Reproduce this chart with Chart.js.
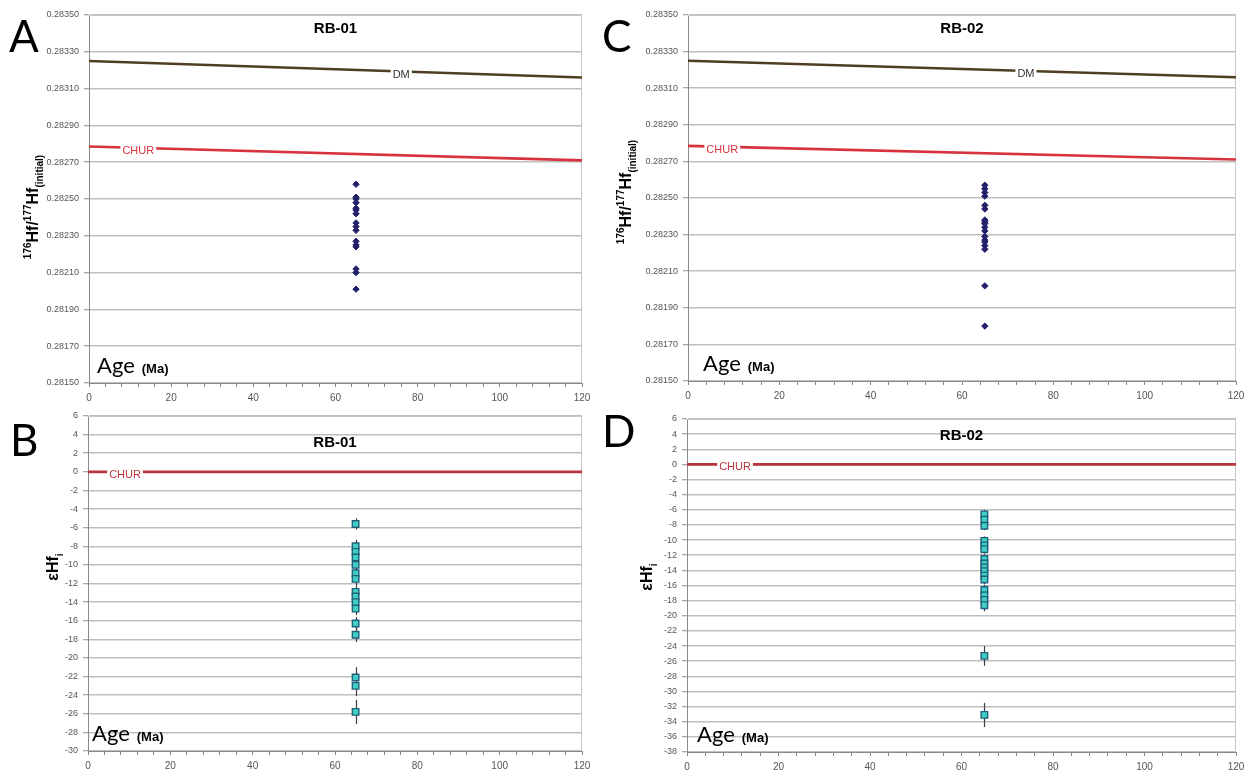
<!DOCTYPE html>
<html>
<head>
<meta charset="utf-8">
<script src="https://cdn.jsdelivr.net/npm/chart.js@4.4.1/dist/chart.umd.min.js"></script>
<style>
    html, body { margin: 0; padding: 0; background: #fff; }
    #wrap { position: relative; width: 1253px; height: 772px; overflow: hidden; }
    canvas { position: absolute; }
</style>
</head>
<body>
<div id="wrap">
    <canvas id="chartA" width="600" height="405" style="left:0;top:0"></canvas>
    <canvas id="chartB" width="600" height="367" style="left:0;top:405px"></canvas>
    <canvas id="chartC" width="655" height="405" style="left:598px;top:0"></canvas>
    <canvas id="chartD" width="655" height="367" style="left:598px;top:405px"></canvas>
</div>
<script>
// Hf isotope plots - RB-01 / RB-02 zircons (age 65 Ma)

// x: age in Ma
const SAMPLE_AGE = 65;
const refAges = [0, 120];

// reference evolution lines
const dmHf = [0.28325, 0.28316];
const churHf = [0.282785, 0.28271];
const churEps = [0, 0];

// RB-01
const hfRB01 = [0.28258, 0.28251, 0.28250, 0.28248, 0.28245, 0.28244, 0.28242, 0.28237,
                0.28235, 0.28233, 0.28227, 0.28225, 0.28224, 0.28212, 0.28210, 0.28201];
const epsRB01 = [-5.6, -8.0, -8.6, -9.2, -10.0, -10.9, -11.5, -12.9,
                 -13.4, -14.0, -14.7, -16.3, -17.5, -22.1, -23.0, -25.8];
const epsErrRB01 = [0.6, 0.7, 0.7, 0.7, 0.7, 0.7, 0.7, 0.7,
                    0.7, 0.7, 0.7, 0.7, 0.8, 1.1, 1.1, 1.3];

// RB-02
const hfRB02 = [0.28257, 0.28255, 0.28253, 0.28251, 0.28246, 0.28244, 0.28238, 0.28237, 0.28236,
                0.28234, 0.28232, 0.28229, 0.28227, 0.28226, 0.28224, 0.28222, 0.28202, 0.28180];
const epsRB02 = [-6.6, -7.3, -8.1, -10.1, -10.7, -11.2, -12.5, -13.1, -13.6,
                 -14.1, -14.7, -15.2, -16.6, -17.3, -17.9, -18.6, -25.3, -33.1];
const epsErrRB02 = [0.6, 0.6, 0.6, 0.6, 0.6, 0.6, 0.6, 0.6, 0.6,
                    0.6, 0.6, 0.6, 0.7, 0.7, 0.7, 0.8, 1.3, 1.6];

// axis ranges / ticks
const ageRange = { min: 0, max: 120, minorStep: 4, labelStep: 20 };
const hfRange = { min: 0.2815, max: 0.2835, step: 0.0002 };
const epsRangeB = { min: -30, max: 6, step: 2 };
const epsRangeD = { min: -38, max: 6, step: 2 };

const hfTitle = [
    { t: '176', size: 10, dy: -6 },
    { t: 'Hf/', size: 16 },
    { t: '177', size: 10, dy: -6 },
    { t: 'Hf', size: 16 },
    { t: '(initial)', size: 10, dy: 6 }
];
const epsTitle = [
    { t: 'εHf', size: 16 },
    { t: 'i', size: 10, dy: 6 }
];

const toPoints = (vals) => vals.map(v => ({ x: SAMPLE_AGE, y: v }));
const toLine = (vals) => vals.map((v, i) => ({ x: refAges[i], y: v }));

const decorPlugin = {
    id: 'decor',
    beforeDatasetsDraw(chart, args, o) {
        const { ctx, chartArea: a, scales: { x, y } } = chart;
        ctx.save();
        // top / right frame
        ctx.strokeStyle = '#c6c6c6';
        ctx.lineWidth = 1;
        ctx.beginPath();
        ctx.moveTo(a.left, a.top + 0.5);
        ctx.lineTo(a.right - 0.5, a.top + 0.5);
        ctx.lineTo(a.right - 0.5, a.bottom);
        ctx.stroke();
        // error bars under the squares
        if (o.errors) {
            const ds = chart.data.datasets[o.errors.dataset];
            ctx.strokeStyle = '#3c3c3c';
            ctx.lineWidth = 1.2;
            ds.data.forEach((p, i) => {
                const e = o.errors.values[i];
                const px = Math.round(x.getPixelForValue(p.x)) + 0.5;
                ctx.beginPath();
                ctx.moveTo(px, y.getPixelForValue(p.y + e));
                ctx.lineTo(px, y.getPixelForValue(p.y - e));
                ctx.stroke();
            });
        }
        ctx.restore();
    },
    afterDatasetsDraw(chart, args, o) {
        const { ctx, scales: { x, y } } = chart;
        ctx.save();
        (o.lineLabels || []).forEach(l => {
            const d = chart.data.datasets[l.dataset].data;
            const f = (l.age - d[0].x) / (d[1].x - d[0].x);
            const v = d[0].y + f * (d[1].y - d[0].y);
            const px = x.getPixelForValue(l.age);
            const py = y.getPixelForValue(v) + 3;
            ctx.font = '11px "Liberation Sans", Arial, sans-serif';
            const w = ctx.measureText(l.text).width;
            ctx.fillStyle = '#fff';
            ctx.fillRect(px - w / 2 - 2, py - 6, w + 4, 12);
            ctx.fillStyle = l.color;
            ctx.textAlign = 'center';
            ctx.textBaseline = 'middle';
            ctx.fillText(l.text, px, py);
        });
        ctx.restore();
    },
    afterDraw(chart, args, o) {
        const { ctx, chartArea: a } = chart;
        ctx.save();
        // panel letter
        ctx.fillStyle = '#000';
        ctx.font = '44px Lato, "Open Sans", sans-serif';
        ctx.textAlign = 'left';
        ctx.textBaseline = 'alphabetic';
        ctx.fillText(o.letter, o.letterX, o.letterY);

        // sample title
        ctx.font = 'bold 15px "Liberation Sans", Arial, sans-serif';
        ctx.textAlign = 'center';
        ctx.textBaseline = 'middle';
        ctx.fillText(o.title, (a.left + a.right) / 2, o.titleY);

        // rotated y title with super/subscripts
        ctx.translate(o.yTitleX, o.yTitleY);
        ctx.rotate(-Math.PI / 2);
        ctx.textAlign = 'left';
        ctx.textBaseline = 'middle';
        let total = 0;
        o.yTitle.forEach(s => {
            ctx.font = 'bold ' + s.size + 'px "Liberation Sans", Arial, sans-serif';
            total += ctx.measureText(s.t).width;
        });
        let cx = -total / 2;
        o.yTitle.forEach(s => {
            ctx.font = 'bold ' + s.size + 'px "Liberation Sans", Arial, sans-serif';
            ctx.fillText(s.t, cx, s.dy || 0);
            cx += ctx.measureText(s.t).width;
        });
        ctx.setTransform(1, 0, 0, 1, 0, 0);

        // "Age (Ma)" inside the plot
        const ax = a.left + o.ageDx;
        const ay = a.bottom - 10;
        ctx.textAlign = 'left';
        ctx.textBaseline = 'alphabetic';
        ctx.font = '22px Lato, "Open Sans", sans-serif';
        ctx.fillText('Age', ax, ay);
        const aw = ctx.measureText('Age').width;
        ctx.font = 'bold 13px "Liberation Sans", Arial, sans-serif';
        ctx.fillText('(Ma)', ax + aw + 7, ay);
        ctx.restore();
    }
};

function makeScales(yRange, yWidth, xHeight, yFmt) {
    return {
        x: {
            type: 'linear',
            min: ageRange.min,
            max: ageRange.max,
            afterFit: (s) => { s.height = xHeight; },
            border: { color: '#8a8a8a', width: 1 },
            grid: { drawOnChartArea: false, drawTicks: true, tickLength: 4, color: '#8a8a8a' },
            ticks: {
                stepSize: ageRange.minorStep,
                autoSkip: false,
                maxRotation: 0,
                padding: 5,
                color: '#555',
                font: { family: '"Liberation Sans", Arial, sans-serif', size: 10 },
                callback: (v) => (v % ageRange.labelStep === 0 ? String(v) : '')
            }
        },
        y: {
            type: 'linear',
            min: yRange.min,
            max: yRange.max,
            afterFit: (s) => { s.width = yWidth; },
            border: { color: '#8a8a8a', width: 1 },
            grid: { color: '#bfbfbf', lineWidth: 1.5, tickLength: 5, tickColor: '#8a8a8a', tickWidth: 1 },
            ticks: {
                stepSize: yRange.step,
                autoSkip: false,
                padding: 5,
                color: '#555',
                font: { family: '"Liberation Sans", Arial, sans-serif', size: 9 },
                callback: yFmt
            }
        }
    };
}

function makeHfChart(id, hfVals, lay, deco) {
    return new Chart(document.getElementById(id), {
        type: 'scatter',
        data: {
            datasets: [
                {
                    label: 'DM', data: toLine(dmHf), showLine: true,
                    borderColor: '#4f3f22', borderWidth: 2.6, pointRadius: 0
                },
                {
                    label: 'CHUR', data: toLine(churHf), showLine: true,
                    borderColor: '#d8323c', borderWidth: 2.6, pointRadius: 0
                },
                {
                    label: 'Samples', data: toPoints(hfVals),
                    pointStyle: 'rectRot', pointRadius: 3.2,
                    backgroundColor: '#23206b', borderColor: '#23206b', borderWidth: 1
                }
            ]
        },
        options: {
            responsive: false,
            animation: false,
            events: [],
            layout: { padding: lay.padding },
            scales: makeScales(hfRange, lay.yWidth, lay.xHeight, (v) => v.toFixed(5)),
            plugins: {
                legend: { display: false },
                tooltip: { enabled: false },
                decor: Object.assign({ yTitle: hfTitle }, deco)
            }
        },
        plugins: [decorPlugin]
    });
}

function makeEpsChart(id, epsVals, errVals, yRange, lay, deco) {
    return new Chart(document.getElementById(id), {
        type: 'scatter',
        data: {
            datasets: [
                {
                    label: 'CHUR', data: toLine(churEps), showLine: true,
                    borderColor: '#b8343f', borderWidth: 2.6, pointRadius: 0
                },
                {
                    label: 'Samples', data: toPoints(epsVals),
                    pointStyle: 'rect', pointRadius: 4.6,
                    backgroundColor: '#3fcfc4', borderColor: '#21607a', borderWidth: 1.4
                }
            ]
        },
        options: {
            responsive: false,
            animation: false,
            events: [],
            layout: { padding: lay.padding },
            scales: makeScales(yRange, lay.yWidth, lay.xHeight, (v) => String(v)),
            plugins: {
                legend: { display: false },
                tooltip: { enabled: false },
                decor: Object.assign({
                    yTitle: epsTitle,
                    errors: { dataset: 1, values: errVals }
                }, deco)
            }
        },
        plugins: [decorPlugin]
    });
}

makeHfChart('chartA', hfRB01,
    { padding: { left: 0, top: 15, right: 18, bottom: 2 }, yWidth: 89, xHeight: 20 },
    {
        letter: 'A', letterX: 9, letterY: 52,
        title: 'RB-01', titleY: 29,
        yTitleX: 34, yTitleY: 207, ageDx: 8,
        lineLabels: [
            { dataset: 0, age: 76, text: 'DM', color: '#333' },
            { dataset: 1, age: 12, text: 'CHUR', color: '#d8323c' }
        ]
    });

makeEpsChart('chartB', epsRB01, epsErrRB01, epsRangeB,
    { padding: { left: 0, top: 11, right: 18, bottom: 3 }, yWidth: 88, xHeight: 18 },
    {
        letter: 'B', letterX: 10, letterY: 51,
        title: 'RB-01', titleY: 38,
        yTitleX: 54, yTitleY: 162, ageDx: 4,
        lineLabels: [
            { dataset: 0, age: 9, text: 'CHUR', color: '#b8343f' }
        ]
    });

makeHfChart('chartC', hfRB02,
    { padding: { left: 0, top: 15, right: 17, bottom: 4 }, yWidth: 90, xHeight: 20 },
    {
        letter: 'C', letterX: 4, letterY: 52,
        title: 'RB-02', titleY: 29,
        yTitleX: 29, yTitleY: 192, ageDx: 15,
        lineLabels: [
            { dataset: 0, age: 74, text: 'DM', color: '#333' },
            { dataset: 1, age: 7.5, text: 'CHUR', color: '#d8323c' }
        ]
    });

makeEpsChart('chartD', epsRB02, epsErrRB02, epsRangeD,
    { padding: { left: 0, top: 14, right: 17, bottom: 2 }, yWidth: 89, xHeight: 18 },
    {
        letter: 'D', letterX: 4, letterY: 42,
        title: 'RB-02', titleY: 31,
        yTitleX: 50, yTitleY: 172, ageDx: 10,
        lineLabels: [
            { dataset: 0, age: 10.5, text: 'CHUR', color: '#b8343f' }
        ]
    });
</script>
</body>
</html>
